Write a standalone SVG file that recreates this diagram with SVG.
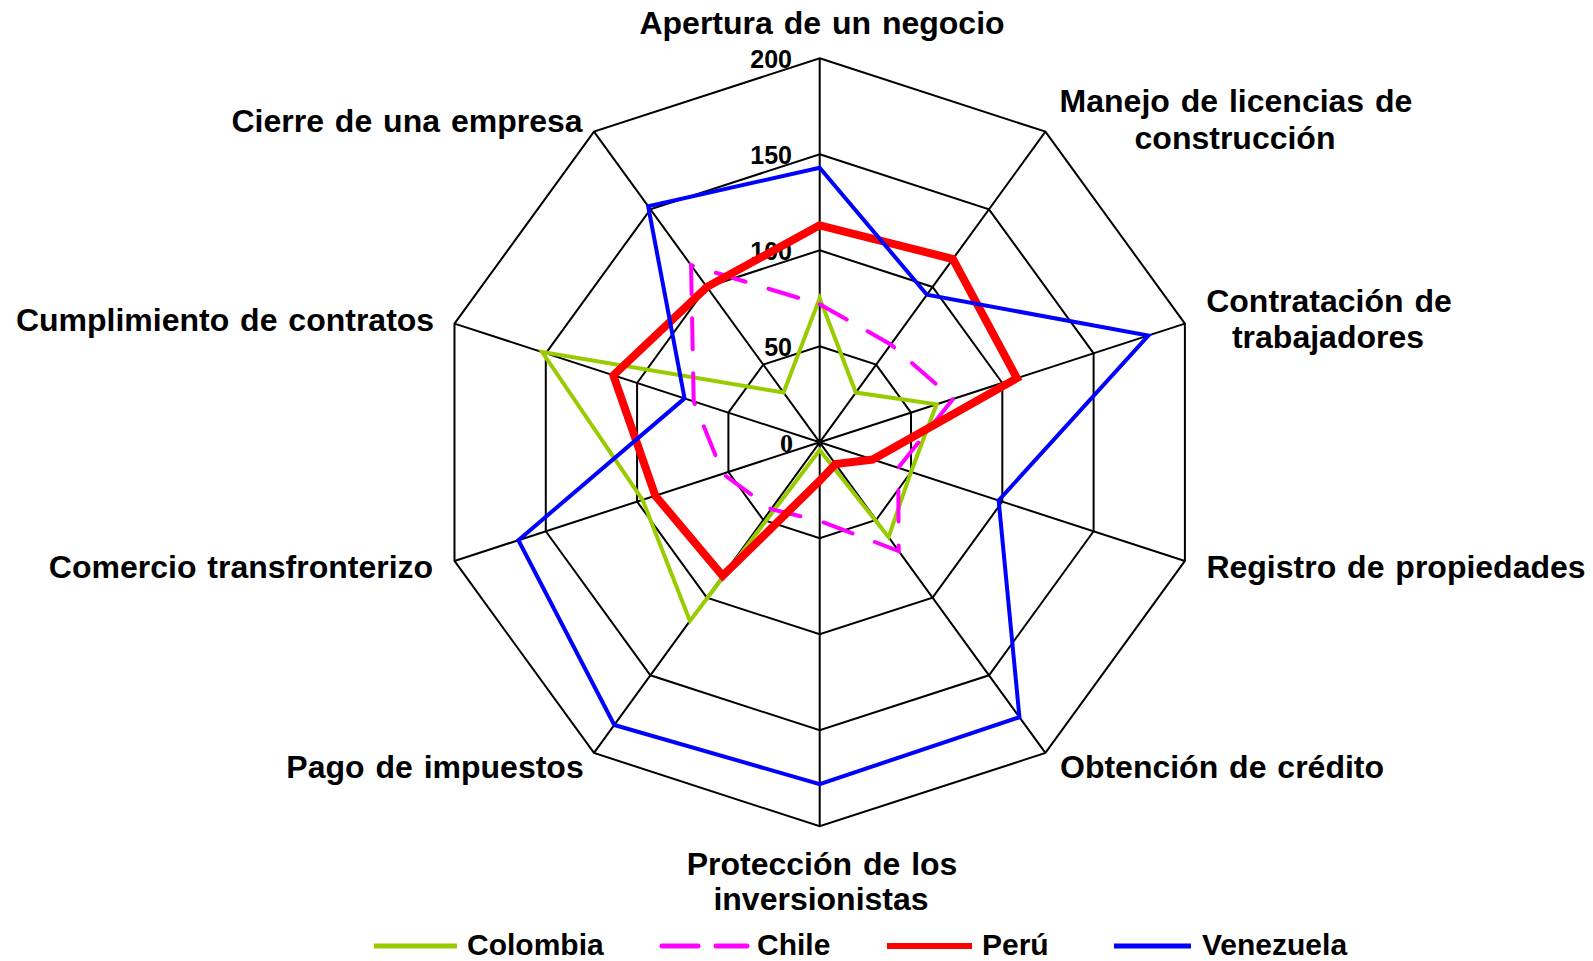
<svg xmlns="http://www.w3.org/2000/svg" width="1593" height="961" viewBox="0 0 1593 961">
<style>
.grid{fill:none;stroke:#000;stroke-width:2}
.lbl{font-family:"Liberation Sans",Arial,sans-serif;font-weight:bold;font-size:32px;fill:#000;text-anchor:middle;word-spacing:2px}
.tick{font-family:"Liberation Sans",Arial,sans-serif;font-weight:bold;font-size:25px;fill:#000;text-anchor:end}
.leg{font-family:"Liberation Sans",Arial,sans-serif;font-weight:bold;font-size:30px;fill:#000}
.s{fill:none;stroke-linejoin:miter;stroke-miterlimit:4}
.col{stroke:#99CC00;stroke-width:4}
.chi{stroke:#FF00FF;stroke-width:4;stroke-dasharray:31 24;stroke-linecap:round}
.per{stroke:#FF0000;stroke-width:8}
.ven{stroke:#0000FF;stroke-width:4}
</style>
<rect width="1593" height="961" fill="#fff"/>
<g id="grid" transform="translate(819.7,442.3)">
<polygon class="grid" points="0,-384 225.71,-310.66 365.21,-118.66 365.21,118.66 225.71,310.66 0,384 -225.71,310.66 -365.21,118.66 -365.21,-118.66 -225.71,-310.66"/>
<polygon class="grid" points="0,-288 169.28,-233 273.91,-89 273.91,89 169.28,233 0,288 -169.28,233 -273.91,89 -273.91,-89 -169.28,-233"/>
<polygon class="grid" points="0,-192 112.86,-155.33 182.61,-59.33 182.61,59.33 112.86,155.33 0,192 -112.86,155.33 -182.61,59.33 -182.61,-59.33 -112.86,-155.33"/>
<polygon class="grid" points="0,-96 56.43,-77.67 91.3,-29.67 91.3,29.67 56.43,77.67 0,96 -56.43,77.67 -91.3,29.67 -91.3,-29.67 -56.43,-77.67"/>
<path class="grid" d="M0,0L0,-384M0,0L225.71,-310.66M0,0L365.21,-118.66M0,0L365.21,118.66M0,0L225.71,310.66M0,0L0,384M0,0L-225.71,310.66M0,0L-365.21,118.66M0,0L-365.21,-118.66M0,0L-225.71,-310.66"/>
</g>
<g id="tick-labels">
<text class="tick" x="792" y="68">200</text>
<text class="tick" x="792" y="164">150</text>
<text class="tick" x="792" y="260">100</text>
<text class="tick" x="792" y="356">50</text>
<text x="793" y="452" style="font-family:'Liberation Serif','Times New Roman',serif;font-weight:bold;font-size:26px;text-anchor:end">0</text>
</g>
<g id="connectors" transform="translate(819.7,442.3)">
<polygon id="colombia" class="s col" points="0,-144 36.11,-49.71 116.87,-37.97 91.3,29.67 68.84,94.75 0,7.68 -129.78,178.63 -177.12,57.55 -277.56,-90.18 -36.11,-49.71"/>
<polygon id="chile" class="s chi" points="0,-138 71.1,-97.86 133.3,-43.31 78.52,25.51 79,108.73 0,78.72 -48.53,66.79 -96.78,31.45 -126,-40.94 -128.65,-177.08"/>
<polygon id="peru" class="s per" points="0,-216.96 133.17,-183.29 197.21,-64.08 52.96,17.21 15.8,21.75 0,38.4 -97.06,133.58 -164.34,53.4 -206.34,-67.04 -112.86,-155.33"/>
<polygon id="venezuela" class="s ven" points="0,-274.56 107.21,-147.57 328.69,-106.8 178.95,58.15 199.75,274.94 0,341.76 -205.4,282.71 -301.29,97.9 -135.13,-43.91 -171.54,-236.1"/>
</g>
<g id="axis-apertura"><text class="lbl" x="822" y="34">Apertura de un negocio</text></g>
<g id="axis-manejo"><text class="lbl" x="1236" y="112">Manejo de licencias de</text><text class="lbl" x="1235" y="149">construcción</text></g>
<g id="axis-contratacion"><text class="lbl" x="1329" y="312">Contratación de</text><text class="lbl" x="1328" y="348">trabajadores</text></g>
<g id="axis-registro"><text class="lbl" x="1396" y="578">Registro de propiedades</text></g>
<g id="axis-obtencion"><text class="lbl" x="1222" y="778">Obtención de crédito</text></g>
<g id="axis-proteccion"><text class="lbl" x="822" y="875">Protección de los</text><text class="lbl" x="821" y="910">inversionistas</text></g>
<g id="axis-pago"><text class="lbl" x="435" y="778">Pago de impuestos</text></g>
<g id="axis-comercio"><text class="lbl" x="241" y="578">Comercio transfronterizo</text></g>
<g id="axis-cumplimiento"><text class="lbl" x="225" y="331">Cumplimiento de contratos</text></g>
<g id="axis-cierre"><text class="lbl" x="407" y="132">Cierre de una empresa</text></g>
<g id="legend">
<line x1="374" y1="946" x2="457" y2="946" stroke="#99CC00" stroke-width="5"/>
<text class="leg" x="467" y="955">Colombia</text>
<line x1="662" y1="946" x2="747" y2="946" stroke="#FF00FF" stroke-width="5" stroke-dasharray="36 18" stroke-linecap="round"/>
<text class="leg" x="757" y="955">Chile</text>
<line x1="887" y1="946" x2="972" y2="946" stroke="#FF0000" stroke-width="6"/>
<text class="leg" x="982" y="955">Perú</text>
<line x1="1114" y1="946" x2="1191" y2="946" stroke="#0000FF" stroke-width="5"/>
<text class="leg" x="1202" y="955">Venezuela</text>
</g>
</svg>
